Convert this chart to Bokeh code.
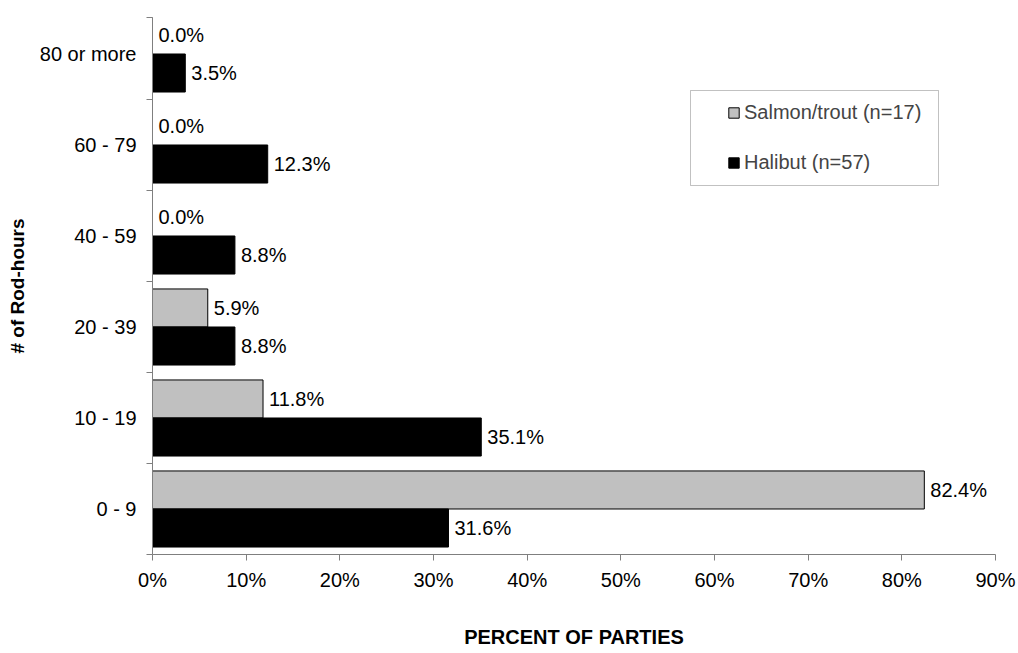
from bokeh.plotting import figure
from bokeh.models import (ColumnDataSource, FixedTicker, Legend, LegendItem,
                          Range1d, BoxAnnotation)
from bokeh.core.properties import value
from bokeh.embed import file_html
from bokeh.resources import INLINE

# ---- data ----
categories = ["0 - 9", "10 - 19", "20 - 39", "40 - 59", "60 - 79", "80 or more"]
salmon = [82.4, 11.8, 5.9, 0.0, 0.0, 0.0]
halibut = [31.6, 35.1, 8.8, 8.8, 12.3, 3.5]
series_names = ["Salmon/trout (n=17)", "Halibut (n=57)"]
x_ticks = [0, 10, 20, 30, 40, 50, 60, 70, 80, 90]
x_tick_labels = [f"{t}%" for t in x_ticks]

FONT = "Liberation Sans"
AXIS_COLOR = "#7f7f7f"

idx = list(range(len(categories)))
bar_h = 0.418
off = 0.209

src_s = ColumnDataSource(dict(y=[i + off for i in idx], v=salmon,
                              lab=[f"{v:.1f}%" for v in salmon]))
src_h = ColumnDataSource(dict(y=[i - off for i in idx], v=halibut,
                              lab=[f"{v:.1f}%" for v in halibut]))

p = figure(width=1018, height=653, output_backend="svg", toolbar_location=None,
           x_range=Range1d(0, 90), y_range=Range1d(-0.5, 5.401),
           min_border_left=152, min_border_right=23, min_border_top=17,
           min_border_bottom=99)
p.outline_line_color = None
p.xgrid.visible = False
p.ygrid.visible = False

r_s = p.hbar(y="y", left=0, right="v", height=bar_h, source=src_s,
             fill_color="#c0c0c0", line_color="black", line_width=1)
r_h = p.hbar(y="y", left=0, right="v", height=bar_h, source=src_h,
             fill_color="black", line_color="black", line_width=1)

for src in (src_s, src_h):
    p.text(x="v", y="y", text="lab", source=src, x_offset=6,
           text_baseline="middle", text_align="left",
           text_font=value(FONT), text_font_size="20px", text_color="black")

# x axis
xa = p.xaxis[0]
xa.ticker = FixedTicker(ticks=x_ticks, minor_ticks=[])
xa.major_label_overrides = {t: l for t, l in zip(x_ticks, x_tick_labels)}
xa.major_tick_out = 6
xa.major_tick_in = 0
xa.minor_tick_out = 0
xa.minor_tick_in = 0
xa.axis_line_color = AXIS_COLOR
xa.major_tick_line_color = AXIS_COLOR
xa.major_label_text_font = FONT
xa.major_label_text_font_size = "20px"
xa.major_label_text_color = "black"
xa.major_label_standoff = 8
xa.axis_label = "PERCENT OF PARTIES"
xa.axis_label_text_font = FONT
xa.axis_label_text_font_size = "20px"
xa.axis_label_text_font_style = "bold"
xa.axis_label_text_color = "black"
xa.axis_label_standoff = 32

# y axis
ya = p.yaxis[0]
ya.ticker = FixedTicker(ticks=idx, minor_ticks=[i - 0.5 for i in idx] + [5.401])
ya.major_label_overrides = {i: c for i, c in zip(idx, categories)}
ya.major_tick_out = 0
ya.major_tick_in = 0
ya.minor_tick_out = 6
ya.minor_tick_in = 0
ya.axis_line_color = AXIS_COLOR
ya.minor_tick_line_color = AXIS_COLOR
ya.major_label_text_font = FONT
ya.major_label_text_font_size = "20px"
ya.major_label_text_color = "black"
ya.major_label_standoff = 10
ya.axis_label = "# of Rod-hours"
ya.axis_label_text_font = FONT
ya.axis_label_text_font_size = "19px"
ya.axis_label_text_font_style = "bold"
ya.axis_label_text_color = "black"
ya.axis_label_standoff = 9

# legend box (frame-relative screen units)
box = BoxAnnotation(left=538, right=786, top=464, bottom=369,
                    left_units="screen", right_units="screen",
                    top_units="screen", bottom_units="screen",
                    fill_alpha=0, line_color="#333333", line_width=1)
p.add_layout(box)

legend = Legend(items=[LegendItem(label=series_names[0], renderers=[r_s]),
                       LegendItem(label=series_names[1], renderers=[r_h])],
                location=(575, 380), margin=0, padding=0, spacing=27,
                glyph_width=13, glyph_height=13, label_standoff=4,
                label_text_font=FONT, label_text_font_size="20px",
                label_height=23,
                border_line_alpha=0, background_fill_alpha=0)
p.add_layout(legend)

open("out.html", "w").write(file_html(p, INLINE))
